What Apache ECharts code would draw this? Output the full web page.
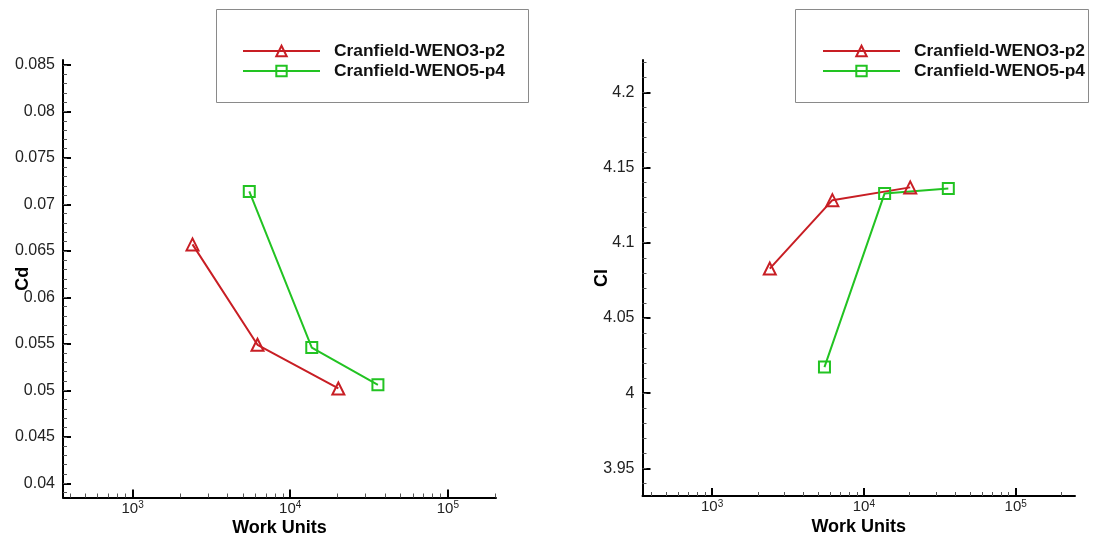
<!DOCTYPE html>
<html>
<head>
<meta charset="utf-8">
<script src="https://cdn.jsdelivr.net/npm/echarts@6/dist/echarts.min.js"></script>
<style>
  html, body { margin: 0; padding: 0; background: #fff; }
  #chart { width: 1104px; height: 542px; }
</style>
</head>
<body>
<div id="chart"></div>
<script>
// Series names
const seriesNames = ['Cranfield-WENO3-p2', 'Cranfield-WENO5-p4'];

// Work units for each scheme (x values, log scale)
const workWeno3 = [2400, 6200, 20200];
const workWeno5 = [5500, 13700, 36000];

// Drag coefficient
const cdWeno3 = [0.0657, 0.0549, 0.0502];
const cdWeno5 = [0.0714, 0.0546, 0.0506];

// Lift coefficient
const clWeno3 = [4.0828, 4.1283, 4.1368];
const clWeno5 = [4.0173, 4.1328, 4.1361];

// Tick values
const workTicks = [1e3, 1e4, 1e5];
const cdTicks = [0.04, 0.045, 0.05, 0.055, 0.06, 0.065, 0.07, 0.075, 0.08, 0.085];
const clTicks = [3.95, 4, 4.05, 4.1, 4.15, 4.2];

const RED = '#c81e24';
const GREEN = '#22c322';
const FONT = 'Liberation Sans, Arial, sans-serif';

// minor ticks: 2..9 per decade on the log axes, fixed steps on the linear axes
function logMinor(lo, hi) {
  const out = [];
  for (let d = 100; d <= 1e6; d *= 10) {
    for (let m = 2; m <= 9; m++) {
      const v = m * d;
      if (v >= lo && v <= hi) out.push(v);
    }
  }
  return out;
}
function linMinor(lo, hi, step) {
  const out = [];
  const n0 = Math.ceil(lo / step - 1e-9), n1 = Math.floor(hi / step + 1e-9);
  for (let n = n0; n <= n1; n++) out.push(+(n * step).toFixed(6));
  return out;
}
function zip(a, b) { return a.map((v, i) => [v, b[i]]); }

const xRange = [[362, 2.02e5], [348, 2.46e5]];
const yRange = [[0.03847, 0.08554], [3.9316, 4.2215]];

const tickLabelColor = '#222';
const axisNameStyle = { color: '#000', fontWeight: 'bold', fontSize: 18, fontFamily: FONT };

function majorX(grid) {
  return {
    type: 'log', logBase: 10, gridIndex: grid, position: 'bottom',
    min: xRange[grid][0], max: xRange[grid][1],
    name: 'Work Units', nameLocation: 'middle', nameGap: 22, nameMoveOverlap: false,
    nameTextStyle: axisNameStyle,
    axisLine: { show: true, onZero: false, lineStyle: { color: '#000', width: 2 } },
    axisTick: { show: true, inside: true, length: 8, lineStyle: { color: '#000', width: 2 }, customValues: workTicks },
    axisLabel: {
      show: true, margin: 3, customValues: workTicks,
      formatter: v => '{b|10}{s|' + Math.round(Math.log10(v)) + '}',
      rich: {
        b: { fontSize: 15, lineHeight: 16, color: tickLabelColor, fontFamily: FONT },
        s: { fontSize: 10, lineHeight: 9, verticalAlign: 'top', color: tickLabelColor, fontFamily: FONT }
      }
    },
    splitLine: { show: false }, minorTick: { show: false }, minorSplitLine: { show: false }
  };
}
function minorX(grid) {
  return {
    type: 'log', logBase: 10, gridIndex: grid, position: 'bottom',
    min: xRange[grid][0], max: xRange[grid][1],
    axisLine: { show: false },
    axisTick: { show: true, inside: true, length: 4, lineStyle: { color: '#555', width: 1 }, customValues: logMinor(xRange[grid][0], xRange[grid][1]) },
    axisLabel: { show: false },
    splitLine: { show: false }
  };
}
function majorY(grid, name, ticks, digits) {
  return {
    type: 'value', gridIndex: grid, position: 'left',
    min: yRange[grid][0], max: yRange[grid][1],
    name: name, nameLocation: 'middle', nameGap: 31, nameRotate: 90, nameMoveOverlap: false,
    nameTextStyle: axisNameStyle,
    axisLine: { show: true, onZero: false, lineStyle: { color: '#000', width: 2 } },
    axisTick: { show: true, inside: true, length: 8, lineStyle: { color: '#000', width: 2 }, customValues: ticks },
    axisLabel: {
      show: true, margin: 8, customValues: ticks,
      formatter: v => String(+(+v).toFixed(digits)),
      fontSize: 16, color: tickLabelColor, fontFamily: FONT
    },
    splitLine: { show: false }
  };
}
function minorY(grid, step) {
  return {
    type: 'value', gridIndex: grid, position: 'left',
    min: yRange[grid][0], max: yRange[grid][1],
    axisLine: { show: false },
    axisTick: { show: true, inside: true, length: 4, lineStyle: { color: '#555', width: 1 }, customValues: linMinor(yRange[grid][0], yRange[grid][1], step) },
    axisLabel: { show: false },
    splitLine: { show: false }
  };
}

function lineSeries(name, color, symbol, size, xi, yi, data) {
  return {
    type: 'line', name: name, xAxisIndex: xi, yAxisIndex: yi,
    data: data, symbol: symbol, symbolSize: size, showAllSymbol: true,
    lineStyle: { color: color, width: 2 },
    itemStyle: { color: 'rgba(255,255,255,0)', borderColor: color, borderWidth: 2 },
    emphasis: { disabled: true },
    animation: false, z: 3
  };
}

function legend(left, top) {
  return {
    orient: 'vertical', left: left, top: top, padding: 0,
    itemWidth: 77, itemHeight: 13, itemGap: 3,
    selectedMode: false,
    textStyle: { fontSize: 17.4, lineHeight: 17, fontWeight: 'bold', color: '#111', fontFamily: FONT, padding: [0, 0, 0, 9] },
    data: [
      { name: seriesNames[0], itemStyle: { color: 'rgba(255,255,255,0)', borderColor: RED, borderWidth: 2 }, lineStyle: { color: RED, width: 2 } },
      { name: seriesNames[1], itemStyle: { color: 'rgba(255,255,255,0)', borderColor: GREEN, borderWidth: 2 }, lineStyle: { color: GREEN, width: 2 } }
    ]
  };
}

const chart = echarts.init(document.getElementById('chart'), null, { renderer: 'canvas' });
chart.setOption({
  backgroundColor: '#fff',
  animation: false,
  grid: [
    { left: 63, top: 60, width: 433, height: 437.5, containLabel: false, outerBoundsMode: 'none' },
    { left: 642.5, top: 60, width: 432.5, height: 436, containLabel: false, outerBoundsMode: 'none' }
  ],
  xAxis: [majorX(0), minorX(0), majorX(1), minorX(1)],
  yAxis: [majorY(0, 'Cd', cdTicks, 3), minorY(0, 0.001), majorY(1, 'Cl', clTicks, 2), minorY(1, 0.01)],
  legend: [legend(242, 42.5), legend(822, 42.5)],
  graphic: [
    { type: 'rect', shape: { x: 216.5, y: 9.5, width: 312, height: 93 }, style: { fill: 'none', stroke: '#8a8a8a', lineWidth: 1 }, silent: true },
    { type: 'rect', shape: { x: 795.5, y: 9.5, width: 293, height: 93 }, style: { fill: 'none', stroke: '#8a8a8a', lineWidth: 1 }, silent: true }
  ],
  series: [
    lineSeries(seriesNames[0], RED, 'triangle', 12, 0, 0, zip(workWeno3, cdWeno3)),
    lineSeries(seriesNames[1], GREEN, 'rect', 11, 0, 0, zip(workWeno5, cdWeno5)),
    lineSeries(seriesNames[0], RED, 'triangle', 12, 2, 2, zip(workWeno3, clWeno3)),
    lineSeries(seriesNames[1], GREEN, 'rect', 11, 2, 2, zip(workWeno5, clWeno5))
  ]
});
</script>
</body>
</html>
